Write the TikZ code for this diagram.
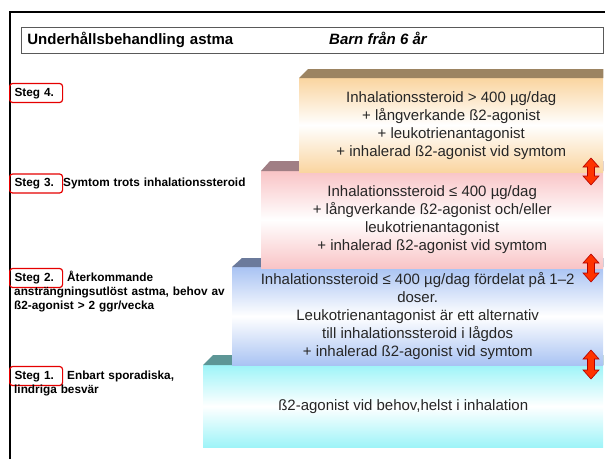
\documentclass[tikz,border=0pt]{standalone}
\usepackage{fontspec}
\setmainfont{Liberation Sans}
\usetikzlibrary{positioning}

\definecolor{orangefront}{HTML}{FAD5A0}
\definecolor{orangetop}{HTML}{9C8462}
\definecolor{pinkfront}{HTML}{F9C4C6}
\definecolor{pinktop}{HTML}{A07E84}
\definecolor{bluefront}{HTML}{A9C3F3}
\definecolor{bluetop}{HTML}{6B7A9B}
\definecolor{cyanfront}{HTML}{9EF4F8}
\definecolor{cyantop}{HTML}{5D9696}
\definecolor{arrowred}{HTML}{FF3300}

\tikzset{
  frame/.style={line width=2pt, black},
  titlebox/.style={draw=black!65, line width=0.8pt, anchor=north west,
    minimum width=582pt, minimum height=26pt, text width=570pt,
    inner xsep=6pt, align=left, font=\fontsize{15}{18}\selectfont\bfseries},
  stegbox/.style={draw=red!90!black, line width=1.2pt, rounded corners=3pt,
    anchor=base west, text width=43pt, inner xsep=5pt, minimum height=19pt,
    text height=8.5pt, text depth=2.5pt, align=left,
    font=\fontsize{11.8}{14}\selectfont\bfseries},
  stegtext/.style={anchor=base west, inner sep=0pt, text width=240pt,
    align=left, font=\fontsize{11.8}{14}\selectfont\bfseries},
  block/.style={anchor=north west, inner sep=0pt, align=center, text=black!85,
    font=\fontsize{15}{18}\selectfont,
    top color=#1, bottom color=#1, middle color=white},
  updown/.style={fill=arrowred, draw=red!70!black, line width=0.6pt}
}

\begin{document}
\begin{tikzpicture}[x=1pt, y=-1pt]
\useasboundingbox (0,0) rectangle (605,459);

% frame and heading
\draw[frame] (9.5,459) -- (9.5,12) -- (605,12);
\node[titlebox] (tbox) at (21,27) {Underhållsbehandling astma};
\node[anchor=base west, inner sep=0pt, font=\fontsize{15}{18}\selectfont\bfseries\itshape]
  (age) at ([xshift=308pt]tbox.base west) {Barn från 6 år};

% steps, lowest first
\node[block=cyanfront, minimum width=400pt, minimum height=82pt] (b1) at (203,365)
  {ß2-agonist vid behov,helst i inhalation};
\fill[cyantop] (b1.north west) -- ++(10,-10) -| (b1.north east) -- cycle;

\node[block=bluefront, minimum width=371pt, minimum height=98pt] (b2) at (232,267)
  {Inhalationssteroid ≤ 400 µg/dag fördelat på 1–2\\doser.\\Leukotrienantagonist är ett alternativ\\till inhalationssteroid i lågdos\\+ inhalerad ß2-agonist vid symtom};
\fill[bluetop] (b2.north west) -- ++(10,-9) -| (b2.north east) -- cycle;

\node[block=pinkfront, minimum width=342pt, minimum height=97pt] (b3) at (261,171)
  {Inhalationssteroid ≤ 400 µg/dag\\+ långverkande ß2-agonist och/eller\\leukotrienantagonist\\+ inhalerad ß2-agonist vid symtom};
\fill[pinktop] (b3.north west) -- ++(9,-10) -| (b3.north east) -- cycle;

\node[block=orangefront, minimum width=304pt, minimum height=94pt] (b4) at (299,78)
  {Inhalationssteroid > 400 µg/dag\\+ långverkande ß2-agonist\\+ leukotrienantagonist\\+ inhalerad ß2-agonist vid symtom};
\fill[orangetop] (b4.north west) -- ++(9,-9) -| (b4.north east) -- cycle;

% up/down arrows
\foreach \ya/\yb in {158/185, 254/282, 350/379}
  \draw[updown] (591,\ya) -- (599,\ya+9) -- (594.5,\ya+9) -- (594.5,\yb-9)
    -- (599,\yb-9) -- (591,\yb) -- (583,\yb-9) -- (587.5,\yb-9)
    -- (587.5,\ya+9) -- (583,\ya+9) -- cycle;

% step labels
\node[stegbox] (s4) at (9,96) {Steg 4.};
\node[stegbox] (s3) at (9,186.5) {Steg 3.};
\node[stegtext] (d3) at (14,186.5) {\hspace*{49pt}Symtom trots inhalationssteroid};
\node[stegbox] (s2) at (9,281) {Steg 2.};
\node[stegtext] (d2) at (14,281)
  {\hspace*{53pt}Återkommande\\ansträngningsutlöst astma, behov av\\ß2-agonist > 2 ggr/vecka};
\node[stegbox] (s1) at (9,379) {Steg 1.};
\node[stegtext] (d1) at (14,379) {\hspace*{53pt}Enbart sporadiska,\\lindriga besvär};
\end{tikzpicture}
\end{document}
